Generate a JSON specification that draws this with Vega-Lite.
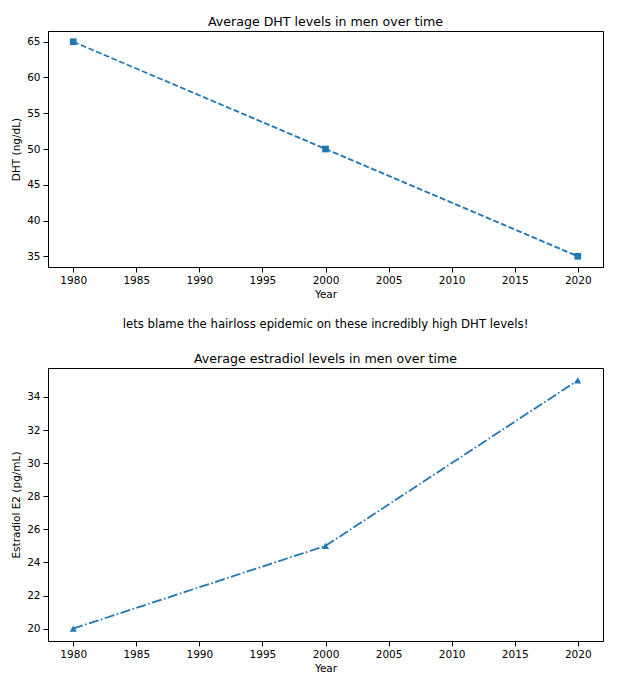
{
  "$schema": "https://vega.github.io/schema/vega-lite/v6.json",
  "padding": {"left": 11, "top": 15, "right": 5, "bottom": 5},
  "background": "white",
  "config": {
    "font": "DejaVu Sans",
    "view": {"stroke": "black", "strokeWidth": 1},
    "axis": {
      "grid": false,
      "domainColor": "black",
      "tickColor": "black",
      "tickSize": 5,
      "labelFontSize": 10.5,
      "labelColor": "black",
      "titleFontSize": 10.5,
      "titleFontWeight": "normal",
      "titleColor": "black",
      "labelFont": "DejaVu Sans",
      "titleFont": "DejaVu Sans"
    },
    "axisX": {"labelPadding": 3, "titlePadding": 4},
    "axisY": {"labelPadding": 3, "titlePadding": 5},
    "title": {"fontSize": 12.6, "fontWeight": "normal", "color": "black", "font": "DejaVu Sans", "offset": 2},
    "concat": {"spacing": 17}
  },
  "datasets": {
    "dht": [
      {"Year": 1980, "value": 65},
      {"Year": 2000, "value": 50},
      {"Year": 2020, "value": 35}
    ],
    "e2": [
      {"Year": 1980, "value": 20},
      {"Year": 2000, "value": 25},
      {"Year": 2020, "value": 35}
    ]
  },
  "vconcat": [
    {
      "width": 555,
      "height": 236,
      "title": {"text": "Average DHT levels in men over time"},
      "data": {"name": "dht"},
      "mark": {"type": "line", "color": "#1f77b4", "strokeWidth": 1.8, "strokeDash": [5.8, 2.5], "point": {"shape": "square", "size": 45, "color": "#1f77b4", "filled": true, "opacity": 1}},
      "encoding": {
        "x": {"field": "Year", "type": "quantitative", "scale": {"domain": [1978, 2022], "nice": false, "zero": false}, "axis": {"values": [1980, 1985, 1990, 1995, 2000, 2005, 2010, 2015, 2020], "format": "d", "title": "Year"}},
        "y": {"field": "value", "type": "quantitative", "scale": {"domain": [33.5, 66.5], "nice": false, "zero": false}, "axis": {"values": [35, 40, 45, 50, 55, 60, 65], "title": "DHT (ng/dL)"}}
      }
    },
    {
      "width": 555,
      "height": 273,
      "title": {"text": "lets blame the hairloss epidemic on these incredibly high DHT levels!", "fontSize": 11.7, "subtitle": "Average estradiol levels in men over time", "subtitleFontSize": 12.6, "subtitleColor": "black", "subtitleFont": "DejaVu Sans", "subtitlePadding": 23},
      "data": {"name": "e2"},
      "mark": {"type": "line", "color": "#1f77b4", "strokeWidth": 1.8, "strokeDash": [10, 2.5, 1.6, 2.5], "point": {"shape": "triangle-up", "size": 50, "color": "#1f77b4", "filled": true, "opacity": 1}},
      "encoding": {
        "x": {"field": "Year", "type": "quantitative", "scale": {"domain": [1978, 2022], "nice": false, "zero": false}, "axis": {"values": [1980, 1985, 1990, 1995, 2000, 2005, 2010, 2015, 2020], "format": "d", "title": "Year"}},
        "y": {"field": "value", "type": "quantitative", "scale": {"domain": [19.25, 35.75], "nice": false, "zero": false}, "axis": {"values": [20, 22, 24, 26, 28, 30, 32, 34], "title": "Estradiol E2 (pg/mL)"}}
      }
    }
  ]
}
